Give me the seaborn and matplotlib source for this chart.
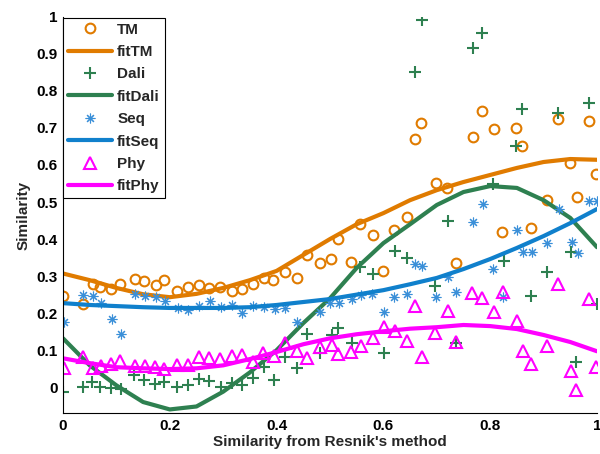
import numpy as np
import pandas as pd
import matplotlib
matplotlib.use("Agg")
import matplotlib.pyplot as plt
import seaborn as sns

# ---------------- data ----------------
tm_x = [0.0, 0.037, 0.056, 0.069, 0.09, 0.107, 0.135, 0.152, 0.174, 0.189, 0.213, 0.234, 0.255, 0.273,
        0.294, 0.316, 0.335, 0.356, 0.376, 0.393, 0.416, 0.438, 0.457, 0.481, 0.502, 0.515, 0.539, 0.556,
        0.581, 0.599, 0.62, 0.644, 0.659, 0.67, 0.699, 0.719, 0.736, 0.768, 0.785, 0.807, 0.822, 0.848,
        0.86, 0.876, 0.906, 0.927, 0.949, 0.963, 0.985, 0.998]
tm_y = [0.246, 0.224, 0.278, 0.27, 0.265, 0.278, 0.292, 0.286, 0.276, 0.289, 0.259, 0.27, 0.276, 0.268,
        0.27, 0.259, 0.265, 0.278, 0.295, 0.289, 0.311, 0.295, 0.357, 0.335, 0.346, 0.4, 0.338, 0.44,
        0.411, 0.314, 0.424, 0.46, 0.67, 0.714, 0.551, 0.538, 0.335, 0.676, 0.746, 0.697, 0.419, 0.7,
        0.651, 0.43, 0.505, 0.724, 0.605, 0.514, 0.719, 0.576]

dali_x = [0.0, 0.037, 0.054, 0.069, 0.09, 0.109, 0.133, 0.152, 0.172, 0.189, 0.213, 0.234, 0.255, 0.273,
          0.296, 0.316, 0.335, 0.356, 0.376, 0.395, 0.416, 0.438, 0.457, 0.481, 0.504, 0.515, 0.541, 0.556,
          0.581, 0.601, 0.622, 0.644, 0.659, 0.672, 0.697, 0.721, 0.736, 0.768, 0.785, 0.805, 0.826, 0.848,
          0.86, 0.876, 0.906, 0.927, 0.951, 0.961, 0.985, 1.0]
dali_y = [-0.014, 0.0, 0.014, 0.0, -0.003, -0.005, 0.032, 0.019, 0.008, 0.014, 0.0, 0.005, 0.022, 0.016,
          0.0, 0.011, 0.005, 0.024, 0.054, 0.019, 0.081, 0.051, 0.143, 0.092, 0.141, 0.159, 0.119, 0.324,
          0.305, 0.092, 0.368, 0.349, 0.851, 0.992, 0.273, 0.449, 0.119, 0.916, 0.957, 0.549, 0.341, 0.651,
          0.751, 0.246, 0.311, 0.74, 0.365, 0.068, 0.768, 0.224]

seq_x = [0.002, 0.037, 0.056, 0.071, 0.092, 0.109, 0.135, 0.154, 0.174, 0.191, 0.215, 0.234, 0.255, 0.275,
         0.296, 0.316, 0.335, 0.356, 0.376, 0.397, 0.416, 0.438, 0.481, 0.5, 0.517, 0.541, 0.558, 0.579,
         0.601, 0.62, 0.644, 0.659, 0.672, 0.699, 0.721, 0.736, 0.768, 0.787, 0.805, 0.824, 0.85, 0.861,
         0.878, 0.906, 0.929, 0.953, 0.964, 0.985, 1.0]
seq_y = [0.176, 0.249, 0.246, 0.227, 0.184, 0.143, 0.251, 0.246, 0.243, 0.232, 0.214, 0.208, 0.219, 0.232,
         0.216, 0.222, 0.2, 0.219, 0.216, 0.211, 0.214, 0.176, 0.203, 0.227, 0.227, 0.238, 0.249, 0.251,
         0.203, 0.243, 0.251, 0.332, 0.327, 0.243, 0.297, 0.257, 0.446, 0.495, 0.319, 0.243, 0.424, 0.365,
         0.365, 0.389, 0.481, 0.392, 0.362, 0.503, 0.503]

phy_x = [0.002, 0.037, 0.056, 0.071, 0.09, 0.107, 0.135, 0.154, 0.172, 0.189, 0.213, 0.234, 0.255, 0.273,
         0.294, 0.316, 0.335, 0.356, 0.375, 0.395, 0.416, 0.438, 0.457, 0.481, 0.504, 0.515, 0.539, 0.558,
         0.581, 0.601, 0.622, 0.644, 0.659, 0.672, 0.697, 0.721, 0.736, 0.766, 0.785, 0.807, 0.824, 0.85,
         0.861, 0.876, 0.906, 0.927, 0.951, 0.961, 0.985, 0.998]
phy_y = [0.051, 0.081, 0.051, 0.057, 0.062, 0.07, 0.057, 0.057, 0.054, 0.049, 0.059, 0.059, 0.081, 0.078,
         0.076, 0.084, 0.086, 0.068, 0.092, 0.084, 0.119, 0.097, 0.078, 0.108, 0.114, 0.089, 0.095, 0.111,
         0.132, 0.162, 0.151, 0.124, 0.219, 0.081, 0.146, 0.205, 0.122, 0.254, 0.241, 0.203, 0.257, 0.178,
         0.097, 0.062, 0.111, 0.278, 0.043, -0.008, 0.238, 0.054]

fit_x = [0.0, 0.05, 0.1, 0.15, 0.2, 0.25, 0.3, 0.35, 0.4, 0.45, 0.5, 0.55, 0.6, 0.65, 0.7, 0.75, 0.8,
         0.85, 0.9, 0.95, 1.0]
fit_tm = [0.307, 0.289, 0.268, 0.251, 0.243, 0.252, 0.268, 0.289, 0.314, 0.357, 0.400, 0.440, 0.470,
          0.505, 0.532, 0.554, 0.573, 0.592, 0.608, 0.616, 0.614]
fit_dali = [0.132, 0.059, 0.005, -0.040, -0.060, -0.052, -0.012, 0.040, 0.100, 0.173, 0.240, 0.322,
            0.389, 0.440, 0.492, 0.527, 0.543, 0.538, 0.505, 0.457, 0.378]
fit_seq = [0.227, 0.222, 0.219, 0.216, 0.214, 0.214, 0.214, 0.216, 0.222, 0.230, 0.238, 0.250, 0.262,
           0.278, 0.295, 0.319, 0.346, 0.376, 0.408, 0.443, 0.481]
fit_phy = [0.078, 0.065, 0.054, 0.051, 0.049, 0.051, 0.059, 0.076, 0.095, 0.116, 0.132, 0.143, 0.151,
           0.158, 0.162, 0.168, 0.165, 0.157, 0.141, 0.122, 0.097]

x_ticks = [0, 0.2, 0.4, 0.6, 0.8, 1]
x_ticklabels = ["0", "0.2", "0.4", "0.6", "0.8", "1"]
y_ticks = [0, 0.1, 0.2, 0.3, 0.4, 0.5, 0.6, 0.7, 0.8, 0.9, 1]
y_ticklabels = ["0", "0.1", "0.2", "0.3", "0.4", "0.5", "0.6", "0.7", "0.8", "0.9", "1"]

# ---------------- style ----------------
sns.set_style("white")
plt.rcParams["font.family"] = ["Liberation Sans", "DejaVu Sans"]
plt.rcParams["font.weight"] = "bold"
plt.rcParams["axes.labelweight"] = "bold"

C_TM = "#E07B00"
C_DALI = "#2E8050"
C_SEQ = "#1080CC"
C_SEQ_M = "#3A8FD8"
C_PHY = "#FF00FF"

fig = plt.figure(figsize=(6.0, 4.54), dpi=100)
ax = fig.add_axes([0.105, 0.090, 0.890, 0.873])

def pts(x, y, color, marker, ms, label, mfc="none", mew=1.5):
    sns.lineplot(x=x, y=y, ax=ax, estimator=None, sort=False, linestyle="none",
                 marker=marker, markersize=ms, markerfacecolor=mfc,
                 markeredgecolor=color, markeredgewidth=mew, color=color, label=label)

def fit(x, y, color, label):
    sns.lineplot(x=x, y=y, ax=ax, estimator=None, sort=False, color=color,
                 linewidth=3.0, label=label)

pts(tm_x, tm_y, C_TM, "o", 7, "TM")
fit(fit_x, fit_tm, C_TM, "fitTM")
pts(dali_x, dali_y, C_DALI, "+", 8, "Dali")
fit(fit_x, fit_dali, C_DALI, "fitDali")
pts(seq_x, seq_y, C_SEQ_M, (8, 2, 0), 7, "Seq", mew=0.8)
fit(fit_x, fit_seq, C_SEQ, "fitSeq")
pts(phy_x, phy_y, C_PHY, "^", 8, "Phy")
fit(fit_x, fit_phy, C_PHY, "fitPhy")

ax.set_xlim(0, 1)
ax.set_ylim(-0.07, 1.0)
ax.set_xticks(x_ticks)
ax.set_xticklabels(x_ticklabels, fontsize=11, fontweight="bold")
ax.set_yticks(y_ticks)
ax.set_yticklabels(y_ticklabels, fontsize=11, fontweight="bold")
ax.tick_params(direction="in", length=4, width=0.8, pad=4, colors="black")
for s in ["top", "right"]:
    ax.spines[s].set_visible(False)
for s in ["left", "bottom"]:
    ax.spines[s].set_color("black")
    ax.spines[s].set_linewidth(0.8)

ax.set_xlabel("Similarity from Resnik's method", fontsize=11, fontweight="bold", labelpad=2)
ax.set_ylabel("Similarity", fontsize=11, fontweight="bold", labelpad=4)

leg = ax.legend(loc="upper left", bbox_to_anchor=(0.0, 0.997), borderaxespad=0.0,
                frameon=True, fancybox=False, edgecolor="black", framealpha=1,
                prop={"weight": "bold", "size": 11}, handlelength=2.9,
                labelspacing=0.55, borderpad=0.3, handletextpad=0.35)
leg.get_frame().set_linewidth(0.8)

fig.savefig("out.png", dpi=100)
